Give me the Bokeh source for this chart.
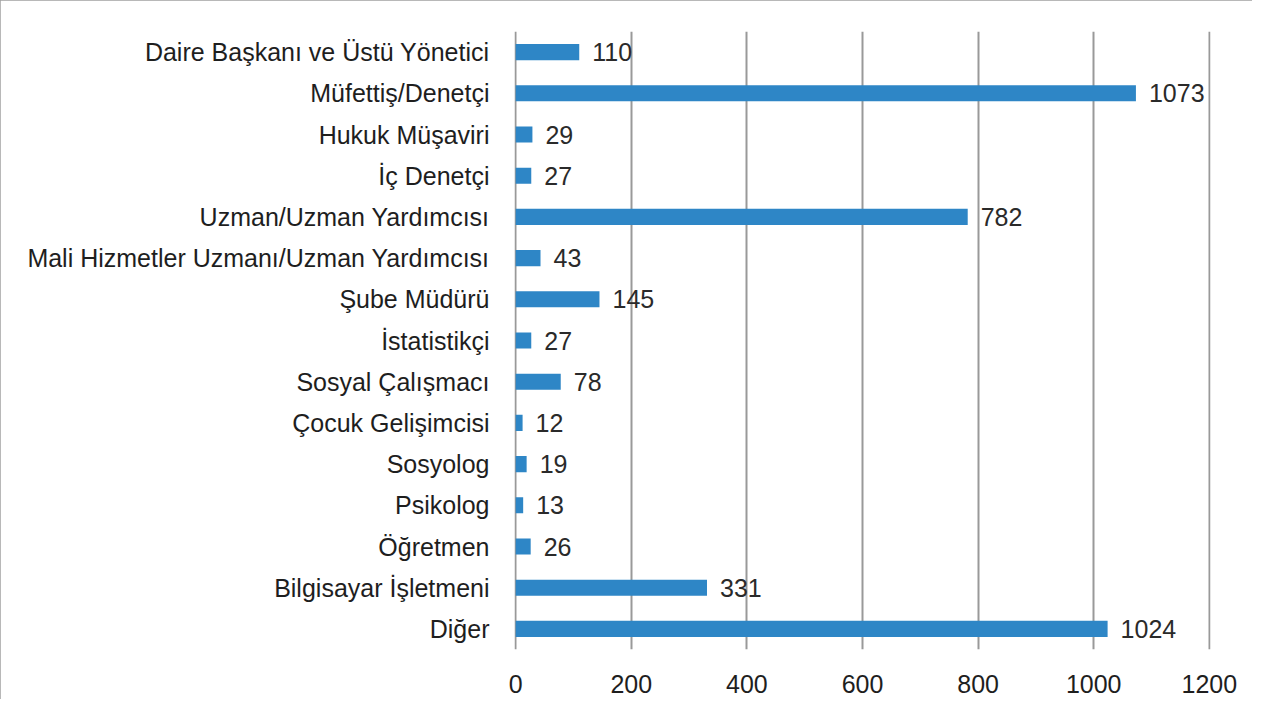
from bokeh.plotting import figure
from bokeh.models import ColumnDataSource, FactorRange, Range1d, FixedTicker
from bokeh.core.properties import value
from bokeh.embed import file_html
from bokeh.resources import INLINE

categories = ["Daire Başkanı ve Üstü Yönetici", "Müfettiş/Denetçi", "Hukuk Müşaviri", "İç Denetçi",
              "Uzman/Uzman Yardımcısı", "Mali Hizmetler Uzmanı/Uzman Yardımcısı", "Şube Müdürü",
              "İstatistikçi", "Sosyal Çalışmacı", "Çocuk Gelişimcisi", "Sosyolog", "Psikolog",
              "Öğretmen", "Bilgisayar İşletmeni", "Diğer"]
counts = [110, 1073, 29, 27, 782, 43, 145, 27, 78, 12, 19, 13, 26, 331, 1024]
x_ticks = [0, 200, 400, 600, 800, 1000, 1200]

FONT = "Liberation Sans"
FS = "25px"
src = ColumnDataSource(dict(cat=categories, val=counts, lab=[str(v) for v in counts]))

p = figure(width=1252, height=699, output_backend="svg", toolbar_location=None,
           y_range=FactorRange(factors=list(reversed(categories)), range_padding=0),
           x_range=Range1d(-2, 1202),
           min_border_left=514, min_border_right=42, min_border_top=31, min_border_bottom=50)
p.styles = {"outline": "2px solid #a0a0a0", "outline-offset": "-2px"}
p.outline_line_color = None
p.background_fill_color = "white"

p.hbar(y="cat", right="val", left=0, height=0.39, source=src, fill_color="#2E86C6", line_color=None)
p.text(x="val", y="cat", text="lab", source=src, x_offset=13, text_baseline="middle", text_align="left",
       text_font=value(FONT), text_font_size=FS, text_color="#2a2a2a")

p.xaxis.ticker = FixedTicker(ticks=x_ticks)
p.xgrid.ticker = FixedTicker(ticks=x_ticks)
p.xgrid.grid_line_color = "#999999"
p.xgrid.grid_line_width = 2
p.ygrid.grid_line_color = None

for ax in (p.xaxis, p.yaxis):
    ax.axis_line_color = None
    ax.major_tick_line_color = None
    ax.minor_tick_line_color = None
    ax.major_label_text_font = FONT
    ax.major_label_text_font_size = FS
    ax.major_label_text_color = "#1e1e1e"
p.xaxis.major_label_standoff = 19
p.yaxis.major_label_standoff = 19

open("out.html", "w").write(file_html(p, INLINE))
